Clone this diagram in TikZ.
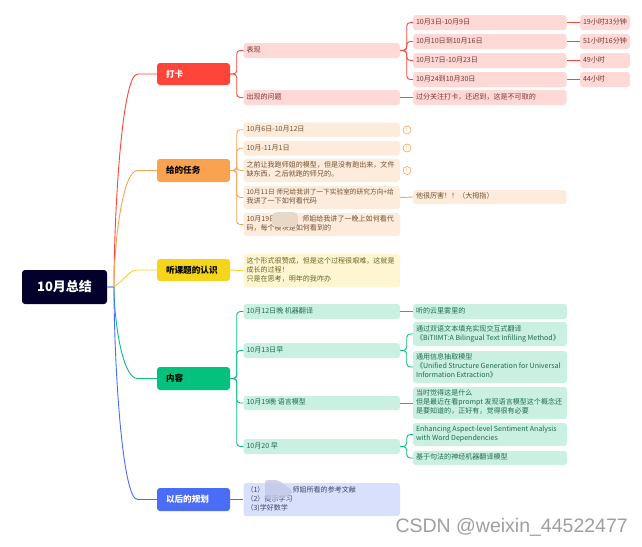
\documentclass[tikz,border=0pt]{standalone}
\usepackage{fontspec}
\setmainfont{Noto Sans CJK SC}
\newfontfamily\wmfont{Liberation Sans}
\usetikzlibrary{calc}
\definecolor{cR}{HTML}{FF4439}\definecolor{lR}{HTML}{FFD9D6}\definecolor{tR}{HTML}{7A3330}
\definecolor{cO}{HTML}{F9A24F}\definecolor{lO}{HTML}{FDEBDC}\definecolor{tO}{HTML}{75512F}
\definecolor{cY}{HTML}{F5D51C}\definecolor{lY}{HTML}{FDF6D0}\definecolor{tY}{HTML}{6E6225}
\definecolor{cG}{HTML}{05C17E}\definecolor{lG}{HTML}{CAF0E2}\definecolor{tG}{HTML}{1F6B50}
\definecolor{cB}{HTML}{4A6CF7}\definecolor{lB}{HTML}{D9E0FB}\definecolor{tB}{HTML}{3C4670}
\definecolor{cRoot}{HTML}{03002B}
\definecolor{blobO}{HTML}{E8D8C8}\definecolor{blobB}{HTML}{C2C9E6}
\newlength{\bxw}
\newcommand{\bx}[7]{\setlength{\bxw}{\dimexpr #4pt-#2pt-6pt\relax}\node[#6,minimum width={(#4-#2)*1pt},minimum height={(#5-#3)*1pt}] (#1) at ({(#2+#4)/2},{(#3+#5)/2}) {\makebox[\bxw][l]{\raisebox{-0.7pt}{\begin{tabular}{@{}l@{}}#7\end{tabular}}}};}
\newcommand{\ct}[7]{\setlength{\bxw}{\dimexpr #4pt-#2pt-18pt\relax}\node[#6,minimum width={(#4-#2)*1pt},minimum height={(#5-#3)*1pt}] (#1) at ({(#2+#4)/2},{(#3+#5)/2}) {\makebox[\bxw][l]{#7}};}
\newcommand{\elbow}[3]{\draw[conn,draw=#3] (#1.east) -- ($(#1.east)+(6.5,0)$) |- (#2.west);}
\newcommand{\main}[3]{\draw[conn,draw=#3] (J) .. controls ($(J)!0.35!(J|-#2.west)$) and ($(J|-#2.west)+(8,0)$) .. ($(J|-#2.west)+(27,0)$) -- (#2.west);}
\tikzset{
 box/.style={rounded corners=3pt,inner xsep=3pt,inner ysep=0pt,font=\fontsize{7.05}{9}\selectfont},
 bR/.style={box,fill=lR,text=tR}, bO/.style={box,fill=lO,text=tO}, bY/.style={box,fill=lY,text=tY},
 bG/.style={box,fill=lG,text=tG}, bB/.style={box,fill=lB,text=tB},
 cat/.style={rounded corners=3pt,inner xsep=9pt,inner ysep=0pt,font=\fontsize{8.6}{11}\selectfont\bfseries},
 conn/.style={line width=0.9pt,rounded corners=3.5pt},
 warn/.style={circle,draw=cO,line width=0.6pt,fill=white,text=cO,inner sep=0pt,minimum size=8pt,font=\fontsize{5}{5}\selectfont},
}
\begin{document}
\begin{tikzpicture}[x=1pt,y=-1pt]
\useasboundingbox (0,0) rectangle (642,546);
\fill[white] (0,0) rectangle (642,546);
% root and categories
\node[rounded corners=3pt,fill=cRoot,text=white,minimum width=85pt,minimum height=34pt,inner sep=0pt,font=\fontsize{13}{15}\selectfont\bfseries] (root) at (64.5,287) {10月总结};
\coordinate (J) at (114,287);
\ct{daka}{157}{63}{230}{85}{cat,fill=cR,text=white}{打卡}
\ct{task}{157}{159}{230}{182}{cat,fill=cO,text=black}{给的任务}
\ct{talk}{157}{259}{230}{281}{cat,fill=cY,text=black}{听课题的认识}
\ct{cont}{157}{367}{230}{390}{cat,fill=cG,text=black}{内容}
\ct{plan}{157}{488}{230}{511}{cat,fill=cB,text=white}{以后的规划}
% red
\bx{r1}{243.5}{43}{400}{58}{bR}{表现}
\bx{r2}{243.5}{90}{400}{105}{bR}{出现的问题}
\bx{r11}{413}{15}{566.5}{30}{bR}{10月3日-10月9日}
\bx{r12}{413}{34}{566.5}{49}{bR}{10月10日到10月16日}
\bx{r13}{413}{53}{566.5}{68}{bR}{10月17日-10月23日}
\bx{r14}{413}{72}{566.5}{87}{bR}{10月24到10月30日}
\bx{r21}{413}{90}{566.5}{105}{bR}{过分关注打卡，还迟到，这是不可取的}
\bx{h1}{580}{15}{630}{30}{bR}{19小时33分钟}
\bx{h2}{580}{34}{630}{49}{bR}{51小时16分钟}
\bx{h3}{580}{53}{630}{68}{bR}{49小时}
\bx{h4}{580}{72}{630}{87}{bR}{44小时}
% orange
\bx{o1}{243.5}{122.5}{400}{137}{bO}{10月6日-10月12日}
\bx{o2}{243.5}{141}{400}{155.5}{bO}{10月-11月1日}
\bx{o3}{243.5}{159}{400}{182}{bO}{之前让我跑师姐的模型，但是没有跑出来，文件\\缺东西，之后就跑的师兄的。}
\bx{o4}{243.5}{186}{400}{209}{bO}{{\fontsize{6.7}{9}\selectfont 10月11日 师兄给我讲了一下实验室的研究方向+给}\\我讲了一下如何看代码}
\bx{o5}{243.5}{213}{400}{236}{bO}{10月19日\hspace{26pt}师姐给我讲了一晚上如何看代\\码，每个模块是如何看到的}
\bx{o41}{413}{190}{566.5}{204}{bO}{他很厉害！！（大拇指）}
\node[warn] (w1) at (407,130) {!};
\node[warn] (w2) at (407,148) {!};
\node[warn] (w3) at (407,170.5) {!};
\fill[blobO,rounded corners=5pt] (272,212) rectangle (298,227);
% yellow
\bx{y1}{243.5}{254}{400}{287}{bY}{这个形式很赞成，但是这个过程很艰难，这就是\\成长的过程！\\只是在思考，明年的我咋办}
% green
\bx{g1}{243.5}{304}{400}{319}{bG}{10月12日晚 机器翻译}
\bx{g2}{243.5}{343}{400}{358}{bG}{10月13日早}
\bx{g3}{243.5}{396}{400}{410}{bG}{10月19晚 语言模型}
\bx{g4}{243.5}{439}{400}{454}{bG}{10月20 早}
\bx{g11}{413}{304}{567}{319}{bG}{听的云里雾里的}
\bx{g21}{413}{322}{567}{346}{bG}{通过双语文本填充实现交互式翻译\\《BiTIIMT:A Bilingual Text Infilling Method》}
\bx{g22}{413}{351}{567}{383}{bG}{通用信息抽取模型\\《Unified Structure Generation for Universal\\Information Extraction》}
\bx{g31}{413}{387}{567}{419}{bG}{当时觉得这是什么\\但是最近在看prompt 发现语言模型这个概念还\\是要知道的，正好有，觉得很有必要}
\bx{g41}{413}{423}{567}{446}{bG}{Enhancing Aspect-level Sentiment Analysis\\with Word Dependencies}
\bx{g42}{413}{451}{567}{465}{bG}{基于句法的神经机器翻译模型}
% blue
\bx{b1}{243.5}{483}{400}{516}{bB}{（1）\hspace{28pt}师姐所看的参考文献\\（2）提示学习\\（3)学好数学}
\fill[blobB,opacity=.8,rounded corners=3pt] (265,480) -- (278,480) -- (292,490) -- (292,494) -- (280,499) -- (265,499) -- cycle;
% connectors
\draw[line width=1.4pt,draw=cB!55!white] (root.east) -- (J);
\main{root}{daka}{cR}
\main{root}{task}{cO}
\draw[conn,draw=cY] (J) .. controls (125,279) and (130,270) .. (140,270) -- (talk.west);
\main{root}{cont}{cG}
\main{root}{plan}{cB}
\elbow{daka}{r1}{cR}\elbow{daka}{r2}{cR}
\elbow{r1}{r11}{cR}\elbow{r1}{r12}{cR}\elbow{r1}{r13}{cR}\elbow{r1}{r14}{cR}
\draw[conn,draw=cR] (r2.east) -- (r21.west);
\draw[conn,draw=cR] (r11.east) -- (h1.west);
\draw[conn,draw=cR] (r12.east) -- (h2.west);
\draw[conn,draw=cR] (r13.east) -- (h3.west);
\draw[conn,draw=cR] (r14.east) -- (h4.west);
\elbow{task}{o1}{cO}\elbow{task}{o2}{cO}\elbow{task}{o3}{cO}\elbow{task}{o4}{cO}\elbow{task}{o5}{cO}
\draw[conn,draw=cO] (o4.east) -- (o41.west);
\draw[conn,draw=cY] (talk.east) -- (y1.west);
\elbow{cont}{g1}{cG}\elbow{cont}{g2}{cG}\elbow{cont}{g3}{cG}\elbow{cont}{g4}{cG}
\draw[conn,draw=cG] (g1.east) -- (g11.west);
\elbow{g2}{g21}{cG}\elbow{g2}{g22}{cG}
\draw[conn,draw=cG] (g3.east) -- (g31.west);
\elbow{g4}{g41}{cG}\elbow{g4}{g42}{cG}
\draw[conn,draw=cB] (plan.east) -- (b1.west);
% watermark
\node[anchor=east,inner sep=0pt,text=gray!75,font=\wmfont\fontsize{19.5}{19.5}\selectfont] (wm) at (628,527) {CSDN @weixin\_44522477};
\end{tikzpicture}
\end{document}
